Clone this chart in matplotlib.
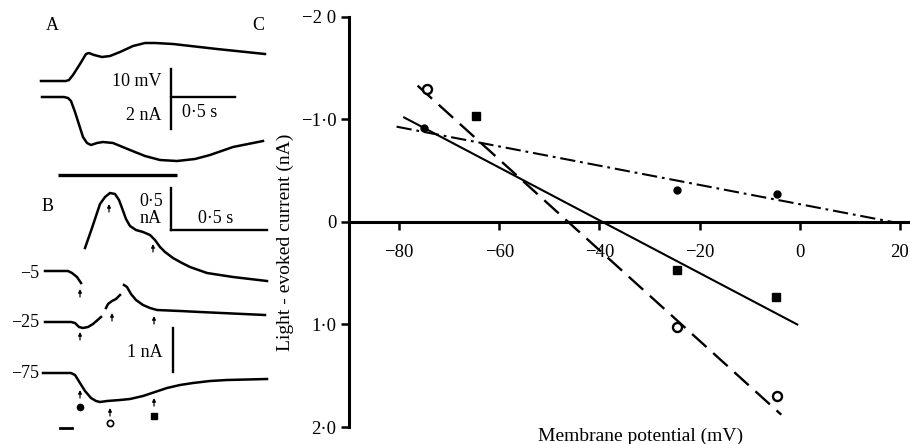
import matplotlib
matplotlib.use("Agg")
import matplotlib.pyplot as plt

plt.rcParams['font.family'] = ['Liberation Serif', 'DejaVu Serif']
plt.rcParams['lines.scale_dashes'] = False

# ---- panel C data (membrane potential mV, light-evoked current nA) ----
pot_ticks = [-80, -60, -40, -20, 0, 20]
pot_labels = ['\u221280', '\u221260', '\u221240', '\u221220', '0', '20']
cur_ticks = [-2, -1, 0, 1, 2]
cur_labels = ['\u22122 0', '\u22121\u00b70', '0', '1\u00b70', '2\u00b70']

filled_circle_x = [-75, -24.5, -4.6]
filled_circle_y = [-0.92, -0.31, -0.27]
filled_square_x = [-64.7, -24.5, -4.7]
filled_square_y = [-1.03, 0.47, 0.73]
open_circle_x = [-74.5, -24.5, -4.5]
open_circle_y = [-1.30, 1.02, 1.70]

fit_dashdot_x = [-80.5, 18.5]
fit_dashdot_y = [-0.93, 0.0]
fit_solid_x = [-79, -0.5]
fit_solid_y = [-1.02, 1.0]
fit_dashed_x = [-76.3, -3.7]
fit_dashed_y = [-1.33, 1.88]

# ---- panels A and B: traces (panel units) ----
a_volt_x = [41, 66, 69, 73, 80, 86, 89, 94, 102, 110, 120, 133, 145, 155, 173, 217, 265]
a_volt_y = [81, 81, 80, 75, 64, 54, 53, 55, 57, 56, 52, 46, 43, 43, 44, 49, 54]
a_curr_x = [42, 64, 68, 71, 75, 83, 87, 91, 97, 103, 113, 130, 145, 160, 177, 195, 210, 233, 263]
a_curr_y = [97, 97, 98, 101, 112, 137, 143, 145, 143, 142, 143, 150, 156, 160, 161, 159, 155, 147, 141]

b_top_x = [85, 92, 100, 105, 110, 115, 119, 122, 126, 130, 136, 143, 150, 155, 160, 165, 173, 182, 190, 207, 233, 267]
b_top_y = [248, 228, 204, 197, 193, 194, 200, 208, 219, 226, 230, 232, 235, 240, 247, 252, 258, 263, 267, 273, 277, 281]
b_m5_x = [45, 68, 72, 77, 81]
b_m5_y = [271, 271, 273, 277, 283]
b_m25_parts = [
    ([45, 71, 75, 79, 83, 88, 93, 101], [322, 322, 323, 327, 328, 327, 324, 317]),
    ([106, 108, 112, 116, 120], [308, 304, 301, 299, 295]),
    ([124, 127, 131, 136, 143, 150, 157, 180, 200, 265], [285, 287, 294, 300, 305, 308, 310, 311, 312, 315]),
]
b_m75_x = [43, 71, 75, 80, 85, 91, 96, 100, 107, 120, 130, 143, 155, 167, 180, 193, 210, 227, 267]
b_m75_y = [373, 373, 375, 383, 391, 398, 401, 402, 401, 400, 399, 396, 392, 388, 385, 383, 381, 380, 379]

arrow_x = [109, 153, 80, 80, 112, 154, 80, 110, 154]
arrow_y = [208, 248, 293, 336, 317, 320, 394, 412, 402]

fig = plt.figure(figsize=(9.1, 4.44), dpi=100)

# ---------------- left panels A, B ----------------
axl = fig.add_axes([0, 0, 280 / 910, 1])
axl.set_xlim(0, 280)
axl.set_ylim(444, 0)
axl.axis('off')

lw_tr = 1.8
fs_l = 13
axl.plot(a_volt_x, a_volt_y, color='black', lw=lw_tr, solid_joinstyle='round')
axl.plot(a_curr_x, a_curr_y, color='black', lw=lw_tr, solid_joinstyle='round')
axl.plot([58, 177], [175.5, 175.5], color='black', lw=2.4, solid_capstyle='butt')

# scale bars A
axl.plot([171, 171], [69, 129], color='black', lw=1.7)
axl.plot([171, 235], [97, 97], color='black', lw=1.7)
axl.text(162, 81, '10 mV', ha='right', va='center', fontsize=fs_l)
axl.text(162, 115, '2 nA', ha='right', va='center', fontsize=fs_l)
axl.text(200, 112, '0\u00b75 s', ha='center', va='center', fontsize=fs_l)

axl.plot(b_top_x, b_top_y, color='black', lw=lw_tr, solid_joinstyle='round')
axl.plot(b_m5_x, b_m5_y, color='black', lw=lw_tr, solid_joinstyle='round')
for xs, ys in b_m25_parts:
    axl.plot(xs, ys, color='black', lw=lw_tr, solid_joinstyle='round')
axl.plot(b_m75_x, b_m75_y, color='black', lw=lw_tr, solid_joinstyle='round')

# scale bars B
axl.plot([171, 171], [188, 230], color='black', lw=1.7)
axl.plot([171, 267], [230, 230], color='black', lw=1.7)
axl.text(151, 201, '0\u00b75', ha='center', va='center', fontsize=fs_l)
axl.text(151, 218, 'nA', ha='center', va='center', fontsize=fs_l)
axl.text(216, 218, '0\u00b75 s', ha='center', va='center', fontsize=fs_l)
axl.plot([173, 173], [328, 372], color='black', lw=1.7)
axl.text(163, 352, '1 nA', ha='right', va='center', fontsize=fs_l)

axl.text(39, 273, '\u22125', ha='right', va='center', fontsize=fs_l)
axl.text(39, 322, '\u221225', ha='right', va='center', fontsize=fs_l)
axl.text(39, 373, '\u221275', ha='right', va='center', fontsize=fs_l)

for x, y in zip(arrow_x, arrow_y):
    axl.annotate('', xy=(x, y - 4), xytext=(x, y + 4),
                 arrowprops=dict(arrowstyle='-|>', lw=0.9, color='black',
                                 mutation_scale=5, shrinkA=0, shrinkB=0))

axl.plot([80], [407], 'o', color='black', ms=4.5)
axl.plot([110], [423], 'o', mfc='white', mec='black', ms=4.5, mew=1.2)
axl.plot([154], [416], 's', color='black', ms=5)
axl.plot([60, 72], [428, 428], color='black', lw=2)

axl.text(52, 25, 'A', ha='center', va='center', fontsize=fs_l)
axl.text(48, 206, 'B', ha='center', va='center', fontsize=fs_l)
axl.text(258, 25, 'C', ha='center', va='center', fontsize=fs_l)

# ---------------- panel C ----------------
ax = fig.add_axes([349 / 910, 1 - 427 / 444, 561 / 910, 410 / 444])
ax.set_xlim(-90, 22)
ax.set_ylim(2.0, -2.0)
ax.patch.set_alpha(0)
for s in ['top', 'right']:
    ax.spines[s].set_visible(False)
ax.spines['bottom'].set_position(('data', 0))
ax.spines['left'].set_linewidth(2.2)
ax.spines['bottom'].set_linewidth(2.2)

ax.set_xticks(pot_ticks)
ax.set_xticklabels(pot_labels)
ax.set_yticks(cur_ticks)
ax.set_yticklabels(cur_labels)
ax.tick_params(axis='x', direction='out', length=6, width=1.8, pad=10, labelsize=13.5)
ax.tick_params(axis='y', direction='out', length=6, width=1.8, pad=3, labelsize=13.5)

ax.plot(fit_dashdot_x, fit_dashdot_y, color='black', lw=1.5,
        dashes=(11, 3.5, 2, 3.5))
ax.plot(fit_solid_x, fit_solid_y, color='black', lw=1.5)
ax.plot(fit_dashed_x, fit_dashed_y, color='black', lw=1.7, dashes=(14, 6.5))

ax.plot(filled_circle_x, filled_circle_y, 'o', color='black', ms=5)
ax.plot(filled_square_x, filled_square_y, 's', color='black', ms=5.5)
ax.plot(open_circle_x, open_circle_y, 'o', mfc='white', mec='black', ms=6.5, mew=1.7)

fig.text(285 / 910, 1 - 242 / 444, 'Light - evoked current (nA)', rotation=90,
         ha='center', va='center', fontsize=14)
fig.text(641 / 910, 1 - 436 / 444, 'Membrane potential (mV)',
         ha='center', va='center', fontsize=14)

fig.savefig('out.png', dpi=100)
